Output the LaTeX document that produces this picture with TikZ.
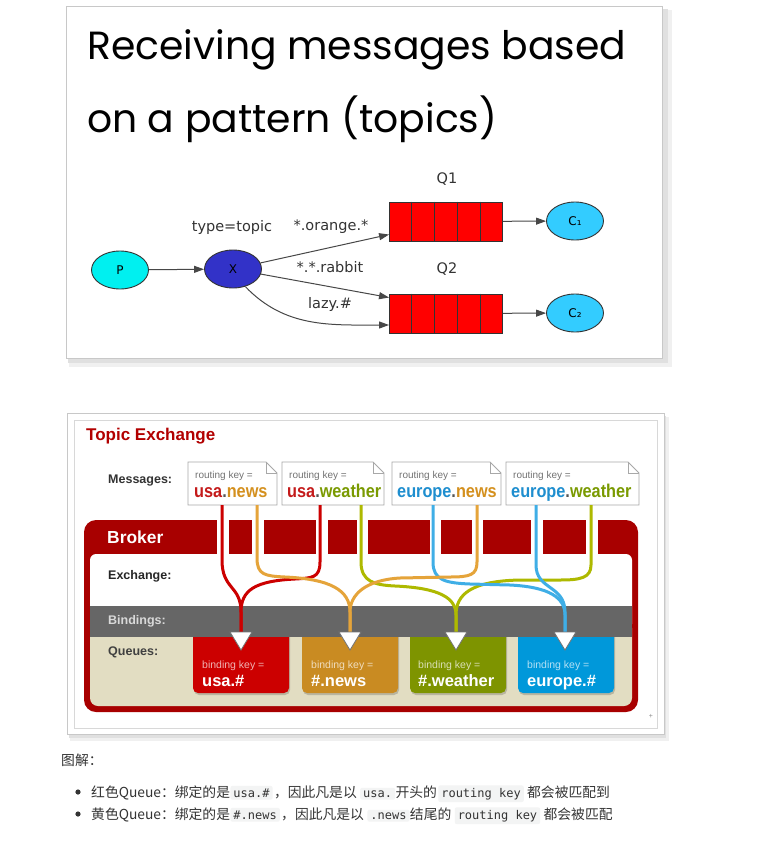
\documentclass[tikz,border=0pt]{standalone}
\usepackage{fontspec}
\setmainfont{Liberation Sans}
\newfontfamily\titlefont{Poppins}
\newfontfamily\gvfont{DejaVu Sans}
\newfontfamily\cjkfont{Noto Sans CJK SC}
\newfontfamily\codefont{DejaVu Sans Mono}
\newfontfamily\narrowfont[FakeStretch=0.88]{Liberation Sans}
\usetikzlibrary{arrows.meta,shapes.geometric,calc}

\definecolor{gvP}{HTML}{00F0F0}
\definecolor{gvX}{HTML}{3232C8}
\definecolor{gvC}{HTML}{33CCFF}
\definecolor{gvQ}{HTML}{FF0000}
\definecolor{framegray}{HTML}{C8C8C8}
\definecolor{tered}{HTML}{B20000}
\definecolor{brk}{HTML}{A80000}
\definecolor{bnd}{HTML}{666666}
\definecolor{beige}{HTML}{E2DDC2}
\definecolor{qred}{HTML}{CC0000}
\definecolor{qorange}{HTML}{C98B22}
\definecolor{qgreen}{HTML}{7E9400}
\definecolor{qblue}{HTML}{0098DA}
\definecolor{lred}{HTML}{CC0000}
\definecolor{lorange}{HTML}{E5A43A}
\definecolor{lgreen}{HTML}{AEB900}
\definecolor{lblue}{HTML}{3FAEE6}
\definecolor{kred}{HTML}{C41A1A}
\definecolor{korange}{HTML}{D4901E}
\definecolor{kgreen}{HTML}{7A9A01}
\definecolor{kblue}{HTML}{1E8ECF}
\definecolor{kdot}{HTML}{555555}
\definecolor{codebg}{HTML}{F3F4F4}
\definecolor{bodytxt}{HTML}{333333}
\definecolor{notebd}{HTML}{A8A8A8}

\newcommand\notebox[3]{%
  \fill[white] (#2,462) -- ({#3-11},462) -- (#3,473) -- (#3,505) -- (#2,505) -- cycle;
  \draw[notebd, line width=0.8pt] (#2,462) -- ({#3-11},462) -- (#3,473) -- (#3,505) -- (#2,505) -- cycle;
  \draw[notebd, line width=0.8pt] ({#3-11},462) -- ({#3-11},473) -- (#3,473);
  \node[rkey] (#1k) at ({#2+7},478) {routing key =};
}
\newcommand\bigkey[3]{\textcolor{#1}{#2}\textcolor{kdot}{.}\textcolor{#3}}

\tikzset{
  gvnode/.style={ellipse, draw=black!80, line width=0.9pt, minimum width=57pt, minimum height=38pt, inner sep=0pt, font=\gvfont\fontsize{12}{12}\selectfont},
  gvedge/.style={draw=black!72, line width=1pt, -{Triangle[length=10pt,width=7pt]}},
  gvlabel/.style={font=\gvfont\fontsize{14.5}{14.5}\selectfont, text=black!80, inner sep=0pt},
  gvqueue/.style={draw=black!80, line width=0.9pt, fill=gvQ, minimum width=113pt, minimum height=39pt, inner sep=0pt},
  rkey/.style={font=\fontsize{10}{10}\selectfont, text=black!55, inner sep=0pt, anchor=base west},
  bkey/.style={font=\narrowfont\bfseries\fontsize{18.5}{18.5}\selectfont, inner sep=0pt, anchor=base west},
  sidelbl/.style={font=\bfseries\fontsize{12.5}{12.5}\selectfont, inner sep=0pt, anchor=west},
  qkey/.style={font=\fontsize{10.5}{10.5}\selectfont, text=white, text opacity=0.7, inner sep=0pt, anchor=base west},
  qval/.style={font=\bfseries\fontsize{16.5}{16.5}\selectfont, text=white, inner sep=0pt, anchor=base west},
  bline/.style={line width=3pt},
  tri/.style={fill=white, draw=black!55, line width=0.8pt},
  cjk/.style={font=\cjkfont\fontsize{13.8}{16}\selectfont, text=bodytxt, inner sep=0pt, anchor=base west},
  code/.style={font=\codefont\fontsize{12}{14}\selectfont, text=bodytxt, fill=codebg, rounded corners=2pt, inner xsep=3pt, inner ysep=2.5pt, anchor=base west},
}

\begin{document}
\begin{tikzpicture}[x=1pt,y=-1pt]
\useasboundingbox (0,0) rectangle (758,855);
\fill[white] (0,0) rectangle (758,855);

% ---------- top panel ----------
\fill[black!6] (69,10) rectangle (672,367);
\fill[black!12] (68,9) rectangle (668,363);
\fill[white, draw=framegray, line width=0.8pt] (66,6) rectangle (662,358);

\node[anchor=base west, inner sep=0pt, font=\titlefont\fontsize{39.3}{42}\selectfont] (t1) at (87,59) {Receiving messages based};
\node[anchor=base west, inner sep=0pt, font=\titlefont\fontsize{39.3}{42}\selectfont] (t2) at (87,132) {on a pattern (topics)};

\node[gvnode, fill=gvP] (P) at (120,270) {P};
\node[gvnode, fill=gvX] (X) at (233,269) {X};
\node[gvqueue] (Q1) at (446,221.5) {};
\node[gvqueue] (Q2) at (446,313.5) {};
\foreach \i in {1,...,4} {
  \draw[black!80, line width=0.9pt] ($(Q1.north west)!\i/5!(Q1.north east)$) -- ($(Q1.south west)!\i/5!(Q1.south east)$);
  \draw[black!80, line width=0.9pt] ($(Q2.north west)!\i/5!(Q2.north east)$) -- ($(Q2.south west)!\i/5!(Q2.south east)$);
}
\node[gvnode, fill=gvC] (C1) at (575,221) {C₁};
\node[gvnode, fill=gvC] (C2) at (575,313) {C₂};

\node[gvlabel] (lq1) at (447,179) {Q1};
\node[gvlabel] (lq2) at (447,269) {Q2};
\node[gvlabel] (ltype) at (232,227) {type=topic};
\node[gvlabel] (lor) at (331,227) {*.orange.*};
\node[gvlabel] (lrab) at (330,267) {*.*.rabbit};
\node[gvlabel] (llazy) at (330,304) {lazy.\#};

\draw[gvedge] (P) -- (X);
\draw[gvedge] (X) -- ([yshift=-13pt]Q1.west);
\draw[gvedge] (X) -- ([yshift=16pt]Q2.west);
\draw[gvedge] (X.-55) .. controls (285,328) and (330,325) .. ([yshift=-11.5pt]Q2.west);
\draw[gvedge] (Q1) -- (C1);
\draw[gvedge] (Q2) -- (C2);

% ---------- bottom panel ----------
\fill[black!6] (70,417) rectangle (669,741);
\fill[black!12] (69,416) rectangle (666,738);
\fill[white, draw=framegray, line width=0.8pt] (67,413) rectangle (664,734);
\draw[framegray!70, line width=0.8pt] (74,420) rectangle (657,728);

\node[anchor=west, inner sep=0pt, font=\bfseries\fontsize{17}{17}\selectfont, text=tered] (te) at (86,436) {Topic Exchange};
\node[sidelbl, text=black!80] (lm) at (108,481) {Messages:};

\notebox{m1}{188}{277}
\notebox{m2}{282}{384}
\notebox{m3}{392}{501}
\notebox{m4}{506}{639}
\node[bkey] (m1v) at (194,497) {\bigkey{kred}{usa}{korange}{news}};
\node[bkey] (m2v) at (287,497) {\bigkey{kred}{usa}{kgreen}{weather}};
\node[bkey] (m3v) at (397,497) {\bigkey{kblue}{europe}{korange}{news}};
\node[bkey] (m4v) at (511,497) {\bigkey{kblue}{europe}{kgreen}{weather}};

\coordinate (s1) at (222,505);
\coordinate (s2) at (257,505);
\coordinate (s3) at (320,505);
\coordinate (s4) at (361,505);
\coordinate (s5) at (433,505);
\coordinate (s6) at (477,505);
\coordinate (s7) at (536,505);
\coordinate (s8) at (591,505);

% broker
\fill[brk, rounded corners=12pt] (84,520) rectangle (638,712);
\fill[white, rounded corners=6pt] (90,554) rectangle (632,630);
\fill[beige, rounded corners=8pt] (90,620) rectangle (632,706);
\foreach \a/\b in {217/229, 252/264, 316/328, 357/368, 430/441, 472/483, 531/543, 586/598}
  \fill[white] (\a,516) rectangle (\b,556);
\node[anchor=west, inner sep=0pt, font=\bfseries\fontsize{17.4}{17.4}\selectfont, text=white] (bk) at (107,537) {Broker};

% queues
\foreach \x/\c in {193/qred, 302/qorange, 410/qgreen, 518/qblue} {
  \fill[black, opacity=0.18, rounded corners=5pt] (\x+1,628) rectangle (\x+97,695);
  \fill[\c, rounded corners=5pt] (\x,628) rectangle (\x+96,693);
}
\fill[bnd] (90,606) rectangle (632,637);

\node[sidelbl, text=black!85] (lex) at (108,576) {Exchange:};
\node[sidelbl, text=black!15] (lbd) at (108,621) {Bindings:};
\node[sidelbl, text=black!75] (lqu) at (108,652) {Queues:};

\node[qkey] (q1k) at (202,668) {binding key =};
\node[qval] (q1v) at (202,686) {usa.\#};
\node[qkey] (q2k) at (311,668) {binding key =};
\node[qval] (q2v) at (311,686) {\#.news};
\node[qkey] (q3k) at (418,668) {binding key =};
\node[qval] (q3v) at (418,686) {\#.weather};
\node[qkey] (q4k) at (527,668) {binding key =};
\node[qval] (q4v) at (527,686) {europe.\#};

\coordinate (d1) at (241,632);
\coordinate (d2) at (350,632);
\coordinate (d3) at (456,632);
\coordinate (d4) at (565,632);

% binding lines
\draw[bline, lred] (s1) -- (222,560) .. controls (222,590) and (241,585) .. (241,612) -- (d1);
\draw[bline, lred] (s3) -- (320,562) .. controls (320,578) and (312,578) .. (295,579) .. controls (255,581) and (241,590) .. (241,612) -- (d1);
\draw[bline, lgreen] (s4) -- (361,562) .. controls (361,582) and (375,585) .. (395,586) .. controls (440,588) and (456,598) .. (456,615) -- (d3);
\draw[bline, lgreen] (s8) -- (591,565) .. controls (591,578) and (580,580) .. (560,580) -- (520,580) .. controls (470,581) and (456,595) .. (456,615) -- (d3);
\draw[bline, lblue] (s5) -- (433,562) .. controls (433,580) and (445,583) .. (470,584) -- (510,585) .. controls (550,587) and (565,598) .. (565,615) -- (d4);
\draw[bline, lblue] (s7) -- (536,565) .. controls (536,590) and (565,585) .. (565,612) -- (d4);
\draw[bline, lorange] (s2) -- (257,558) .. controls (257,575) and (265,576) .. (285,577) .. controls (330,579) and (350,590) .. (350,612) -- (d2);
\draw[bline, lorange] (s6) -- (477,562) .. controls (477,575) and (470,577) .. (450,577) -- (400,578) .. controls (365,580) and (350,595) .. (350,612) -- (d2);

\foreach \x in {241,350,456,565}
  \filldraw[tri] (\x-11,632) -- (\x+11,632) -- (\x,650) -- cycle;

\node[inner sep=0pt, font=\fontsize{7}{7}\selectfont, text=black!45] (plus) at (651,716) {+};

% ---------- text below ----------
\node[cjk] (h) at (61,765) {图解：};
\fill[bodytxt] (78,792) circle (2.6);
\fill[bodytxt] (78,814) circle (2.6);

\node[cjk] (a1) at (91,797) {红色Queue：绑定的是};
\node[code] (a2) at (a1.base east) {usa.\#};
\node[cjk] (a3) at ([xshift=1pt]a2.base east) {，因此凡是以};
\node[code] (a4) at ([xshift=3pt]a3.base east) {usa.};
\node[cjk] (a5) at (a4.base east) {开头的};
\node[code] (a6) at ([xshift=1pt]a5.base east) {routing key};
\node[cjk] (a7) at ([xshift=3pt]a6.base east) {都会被匹配到};

\node[cjk] (b1) at (91,819) {黄色Queue：绑定的是};
\node[code] (b2) at (b1.base east) {\#.news};
\node[cjk] (b3) at ([xshift=1pt]b2.base east) {，因此凡是以};
\node[code] (b4) at ([xshift=3pt]b3.base east) {.news};
\node[cjk] (b5) at (b4.base east) {结尾的};
\node[code] (b6) at ([xshift=3pt]b5.base east) {routing key};
\node[cjk] (b7) at ([xshift=3pt]b6.base east) {都会被匹配};
\end{tikzpicture}
\end{document}
